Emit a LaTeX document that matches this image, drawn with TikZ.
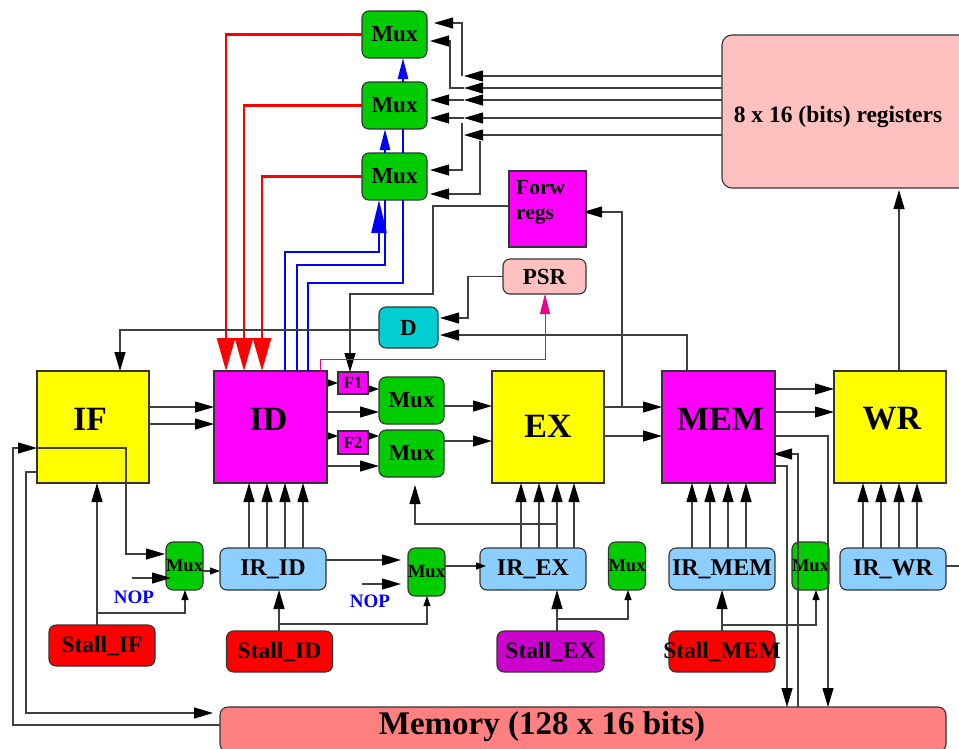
\documentclass[tikz,border=0pt]{standalone}
\usepackage{fontspec}
\setmainfont{Liberation Serif}
\usetikzlibrary{arrows.meta}
\definecolor{boxyellow}{HTML}{FFFF00}
\definecolor{boxmagenta}{HTML}{FF00FF}
\definecolor{muxgreen}{HTML}{00CC00}
\definecolor{irblue}{HTML}{8CCFFF}
\definecolor{regpink}{HTML}{FFC0C0}
\definecolor{dcyan}{HTML}{00CED1}
\definecolor{stallpurple}{HTML}{CC00CC}
\definecolor{mempink}{HTML}{FF8080}
\definecolor{wire}{HTML}{404040}

\begin{document}
\begin{tikzpicture}[x=1pt,y=-1pt,
  blk/.style={draw=black!80,line width=1.1pt,inner sep=0pt,outer sep=0pt,font=\fontsize{23}{26}\selectfont\bfseries},
  rblk/.style={blk,rounded corners=7pt},
  stage/.style={blk,minimum width=112,minimum height=112},
  mux/.style={rblk,fill=muxgreen,minimum width=65,minimum height=47},
  smux/.style={rblk,fill=muxgreen,minimum width=35,minimum height=48,font=\fontsize{18.5}{19}\selectfont\bfseries},
  ireg/.style={rblk,fill=irblue,minimum width=106,minimum height=42,font=\fontsize{24}{26}\selectfont\bfseries},
  stall/.style={rblk,minimum width=106,minimum height=41,font=\fontsize{23.5}{26}\selectfont\bfseries},
  arr/.style={draw=wire,line width=1.1pt,-{Triangle[length=19pt,width=11pt,black]}},
  sarr/.style={draw=wire,line width=1.1pt,-{Triangle[length=10pt,width=7pt,black]}},
  barr/.style={blue,line width=2.5pt,-{Triangle[length=21pt,width=10pt]}},
  biglab/.style={inner sep=0pt,font=\fontsize{34}{36}\selectfont\bfseries,yshift=8pt},
  noptxt/.style={text=blue,font=\fontsize{19}{20}\selectfont\bfseries}]
\useasboundingbox (0,0) rectangle (959,748);

% register file, muxes and forwarding
\node[rblk,fill=regpink,rounded corners=10pt,minimum width=253,minimum height=153,
  label={[inner sep=0pt,font=\fontsize{23.5}{26}\selectfont\bfseries,xshift=-10.5pt,yshift=-5pt]center:8 x 16 (bits) registers}] (Regs) at (848.5,111.5) {};
\foreach \n/\y in {1/34.5,2/105.5,3/176.5} \node[mux] (Mux\n) at (394.5,\y) {Mux};
\node[blk,fill=boxmagenta,minimum width=77,minimum height=76,
  label={[anchor=north west,align=left,inner sep=0pt,font=\fontsize{21.5}{25}\selectfont\bfseries,xshift=7pt,yshift=-9pt]north west:Forw\\regs}] (Forw) at (547.5,209) {};
\node[rblk,fill=regpink,minimum width=83,minimum height=35] (PSR) at (544.5,276.5) {PSR};
\node[rblk,fill=dcyan,minimum width=59,minimum height=41] (D) at (408.5,327.5) {D};

% pipeline stages
\node[stage,fill=boxyellow,label={[biglab,xshift=-3pt]center:IF}] (IF) at (93,427) {};
\node[stage,fill=boxmagenta,minimum width=113,label={[biglab,xshift=-2pt]center:ID}] (ID) at (270.5,427) {};
\node[stage,fill=boxyellow,label={[biglab,yshift=-7pt]center:EX}] (EX) at (548,427) {};
\node[stage,fill=boxmagenta,minimum width=113,label={[biglab,xshift=2pt]center:MEM}] (MEM) at (718.5,427) {};
\node[stage,fill=boxyellow,label={[biglab,xshift=2pt]center:WR}] (WR) at (890,427) {};
\node[blk,fill=boxmagenta,minimum width=30,minimum height=22,font=\fontsize{17}{18}\selectfont\bfseries] (F1) at (353,383) {F1};
\node[blk,fill=boxmagenta,minimum width=30,minimum height=23,font=\fontsize{17}{18}\selectfont\bfseries] (F2) at (353,442.5) {F2};
\node[mux] (MuxA) at (411.5,400.5) {Mux};
\node[mux] (MuxB) at (411.5,453.5) {Mux};

% instruction registers and stalls
\node[smux] (muxIF) at (184.5,566) {Mux};
\node[ireg] (IRID) at (273,569) {IR\_ID};
\node[smux] (muxID) at (426.5,572) {Mux};
\node[ireg] (IREX) at (533,569) {IR\_EX};
\node[smux,minimum width=36] (muxEX) at (627,566) {Mux};
\node[ireg] (IRMEM) at (722,569) {IR\_MEM};
\node[smux] (muxMEM) at (810.5,566) {Mux};
\node[ireg] (IRWR) at (893,569) {IR\_WR};
\node[stall,fill=red] (StallIF) at (102,645.5) {Stall\_IF};
\node[stall,fill=red] (StallID) at (279.5,651.5) {Stall\_ID};
\node[stall,fill=stallpurple,minimum width=107] (StallEX) at (550.5,651.5) {Stall\_EX};
\node[stall,fill=red] (StallMEM) at (722,651.5) {\makebox[90pt]{Stall\_MEM}};
\node[noptxt] (nopIF) at (134,597) {NOP};
\node[noptxt] (nopID) at (370,601) {NOP};
\node[rblk,fill=mempink,rounded corners=8pt,minimum width=726,minimum height=45,
  label={[inner sep=0pt,font=\fontsize{33}{35}\selectfont\bfseries,xshift=-41pt,yshift=3pt]center:Memory (128 x 16 bits)}] (Memory) at (583,729.5) {};

% operand buses
\foreach \m/\x in {1/226,2/244,3/262}
  \draw[red,line width=2.5pt,-{Triangle[length=33pt,width=18pt]}] (Mux\m.west) -| (ID.north -| \x,0);
\draw[blue,line width=2.5pt,-{Triangle[length=33pt,width=15pt]}] (ID.north -| 285,0) |- (379,252) -- (Mux3.south -| 379,0);
\draw[blue,line width=2.5pt] (ID.north -| 297,0) |- (385,265) -- (Mux3.south -| 385,0);
\draw[blue,line width=2.5pt] (ID.north -| 308,0) |- (403,283) -- (Mux3.south -| 403,0);
\draw[barr] (Mux3.north -| 385,0) -- (Mux2.south -| 385,0);
\draw[blue,line width=2.5pt] (Mux3.north -| 403,0) -- (Mux2.south -| 403,0);
\draw[barr] (Mux2.north -| 403,0) -- (Mux1.south -| 403,0);

% register outputs
\foreach \i/\y in {1/76,2/88,3/100,4/118,5/135}{
  \coordinate (s\i) at (464,\y);
  \draw[arr] (Regs.west |- s\i) -- (s\i);}
\draw[arr,shorten >=7pt] ([xshift=-2pt]s1) |- (Mux1.east |- 0,23);
\draw[arr,shorten >=3pt] (s2) -| (450,41) -- (Mux1.east |- 0,41);
\draw[arr,shorten >=3pt] (s3) -- (Mux2.east |- s3);
\draw[arr,shorten >=3pt] (s4) -- (Mux2.east |- s4);
\draw[arr,shorten >=3pt] ([shift={(-2,5)}]s4) |- (Mux3.east |- 0,170);
\draw[arr,shorten >=3pt] ([shift={(16,6)}]s5) |- (Mux3.east |- 0,194);

% forwarding, PSR and D
\draw[arr] (EX.east |- 0,407) -- (MEM.west |- 0,407);
\draw[arr,shorten >=-3pt] (EX.east |- 0,407) ++(18,0) |- (Forw.east |- 0,212);
\draw[arr] (Forw.west |- 0,206) -| (433,294) -| (F1.north -| 350,0);
\draw[arr,shorten >=2pt] (PSR.west) -| (468,318) -- (D.east |- 0,318);
\draw[arr,shorten >=2pt] (MEM.north -| 687,0) |- (D.east |- 0,335);
\draw[arr] (D.west |- 0,330) -| (IF.north -| 120,0);
\draw[magenta,line width=0.8pt,-{Triangle[length=20pt,width=10pt]}] (ID.north -| 320,0) |- (545,359) -- (PSR.south -| 545,0);

% datapath between stages
\foreach \y in {407,424} \draw[arr] (IF.east |- 0,\y) -- (ID.west |- 0,\y);
\draw[sarr] (ID.east |- 0,383) -- (F1.west |- 0,383);
\draw[arr] (ID.east |- 0,412) -- (MuxA.west |- 0,412);
\draw[sarr] (ID.east |- 0,436) -- (F2.west |- 0,436);
\draw[arr] (ID.east |- 0,466) -- (MuxB.west |- 0,466);
\draw[sarr] (F1.east |- 0,389) -- (MuxA.west |- 0,389);
\draw[sarr] (F2.east |- 0,436) -- (MuxB.west |- 0,436);
\draw[arr] (MuxA.east |- 0,406) -- (EX.west |- 0,406);
\draw[arr] (MuxB.east |- 0,441) -- (EX.west |- 0,441);
\draw[arr] (EX.east |- 0,436) -- (MEM.west |- 0,436);
\foreach \y in {389,412} \draw[arr] (MEM.east |- 0,\y) -- (WR.west |- 0,\y);
\draw[arr] (MEM.east |- 0,436) -| (Memory.north -| 828,0);
\draw[arr] (MEM.east |- 0,466) -| (Memory.north -| 787,0);
\draw[arr,shorten >=-2pt] (Memory.north -| 798,0) |- (MEM.east |- 0,454);
\draw[arr,shorten >=2pt] (WR.north -| 899,0) -- (Regs.south -| 899,0);

% memory and fetch
\draw[arr] (Memory.west |- 0,725) -| (13,448) -- (IF.west |- 0,448);
\draw[arr,shorten >=7pt] (IF.west |- 0,472) -| (26,713) -- (Memory.west |- 0,713);
\draw[arr,shorten >=1pt] (IF.west |- 0,448) -| (126,554) -- (muxIF.west |- 0,554);
\draw[arr,shorten >=-5pt] (nopIF.north |- 0,578) ++(-2,0) -- (muxIF.west |- 0,578);
\draw[arr,shorten >=7pt] (nopID.north |- 0,584) ++(-8,0) -- (muxID.west |- 0,584);

% instruction registers
\draw[sarr] (muxIF.east |- 0,571) -- (IRID.west |- 0,571);
\draw[arr,shorten >=7pt] (IRID.east |- 0,560) -- (muxID.west |- 0,560);
\draw[sarr,shorten >=-6pt] (muxID.east |- 0,566) -- (IREX.west |- 0,566);
\draw[draw=wire,line width=1.1pt] (IRWR.east |- 0,566) -- ++(20,0);
\foreach \x in {249,267,285,303} \draw[arr] (IRID.north -| \x,0) -- (ID.south -| \x,0);
\foreach \x in {521,539,557,574} \draw[arr] (IREX.north -| \x,0) -- (EX.south -| \x,0);
\foreach \x in {692,710,728,746} \draw[arr] (IRMEM.north -| \x,0) -- (MEM.south -| \x,0);
\foreach \x in {863,881,899,917} \draw[arr] (IRWR.north -| \x,0) -- (WR.south -| \x,0);
\draw[arr,shorten >=8pt] (IREX.north -| 557,0) |- (415,524) -- (MuxB.south -| 415,0);

% stall signals
\draw[arr] (StallIF.north -| 97,0) -- (IF.south -| 97,0);
\draw[sarr] (StallIF.north -| 97,0) |- (185,613) -- (muxIF.south -| 185,0);
\draw[arr] (StallID.north -| 279,0) -- (IRID.south -| 279,0);
\draw[sarr] (StallID.north -| 279,0) |- (427,624) -- (muxID.south -| 427,0);
\draw[arr] (StallEX.north -| 557,0) -- (IREX.south -| 557,0);
\draw[sarr] (StallEX.north -| 557,0) |- (628,619) -- (muxEX.south -| 628,0);
\draw[arr] (StallMEM.north) -- (IRMEM.south);
\draw[sarr] (StallMEM.north) |- (816,625) -- (muxMEM.south -| 816,0);
\end{tikzpicture}
\end{document}
